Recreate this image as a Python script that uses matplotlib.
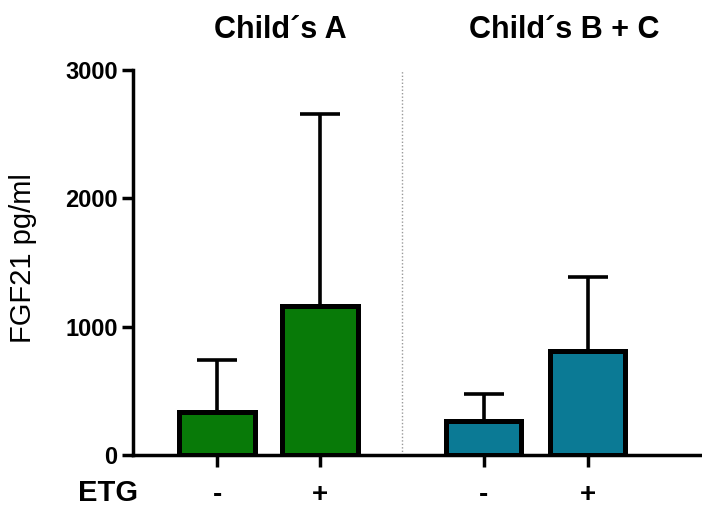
import numpy as np
import matplotlib.pyplot as plt

# data
groups = ["Child\u00b4s A", "Child\u00b4s B + C"]
etg_labels = ["-", "+", "-", "+"]
means = [335, 1160, 268, 807]
sd_upper = [407, 1495, 209, 578]   # error bar length above the bar
colors = ["#087a08", "#087a08", "#0b7a95", "#0b7a95"]

plt.rcParams['font.family'] = ['Liberation Sans', 'DejaVu Sans']

W, H = 702, 509
fig = plt.figure(figsize=(W / 100, H / 100), dpi=100)
ax = fig.add_axes([133 / W, 1 - 455 / H, 1 - 133 / W, (455 - 70) / H])

x = np.array([0, 1, 2.59, 3.6])
width = 0.73

ax.bar(x, means, width=width, color=colors, edgecolor='black', linewidth=3.6, zorder=3)
ax.errorbar(x, means, yerr=[np.zeros(4), sd_upper], fmt='none', ecolor='black',
            elinewidth=2.6, capsize=14.5, capthick=2.6, zorder=2)

# dotted divider between the two groups
ax.axvline(1.8, color='#999999', linestyle=(0, (1, 1.5)), linewidth=1.0, zorder=1)

ax.set_xlim(-0.816, 4.71)
ax.set_ylim(0, 3000)
ax.set_yticks([0, 1000, 2000, 3000])
ax.set_yticklabels(['0', '1000', '2000', '3000'], fontsize=17, fontweight='bold')
ax.set_xticks(x)
ax.set_xticklabels(etg_labels, fontsize=20, fontweight='bold')
for lbl in ax.get_xticklabels():
    lbl.set_verticalalignment('baseline')

ax.spines['top'].set_visible(False)
ax.spines['right'].set_visible(False)
ax.spines['left'].set_linewidth(2.5)
ax.spines['bottom'].set_linewidth(2.5)
ax.tick_params(axis='y', length=8, width=2.5, pad=3)
ax.tick_params(axis='x', length=8.5, width=2.5, pad=25)

fig.text(23 / W, 1 - 258 / H, 'FGF21 pg/ml', fontsize=21, rotation=90,
         ha='center', va='center')
fig.text(108 / W, 1 - 501 / H, 'ETG', fontsize=21, fontweight='bold',
         ha='center', va='baseline')

title_x = [280, 564]
for g, tx in zip(groups, title_x):
    fig.text(tx / W, 1 - 38 / H, g, fontsize=22, fontweight='bold',
             ha='center', va='baseline')

fig.savefig('out.png', dpi=100)
